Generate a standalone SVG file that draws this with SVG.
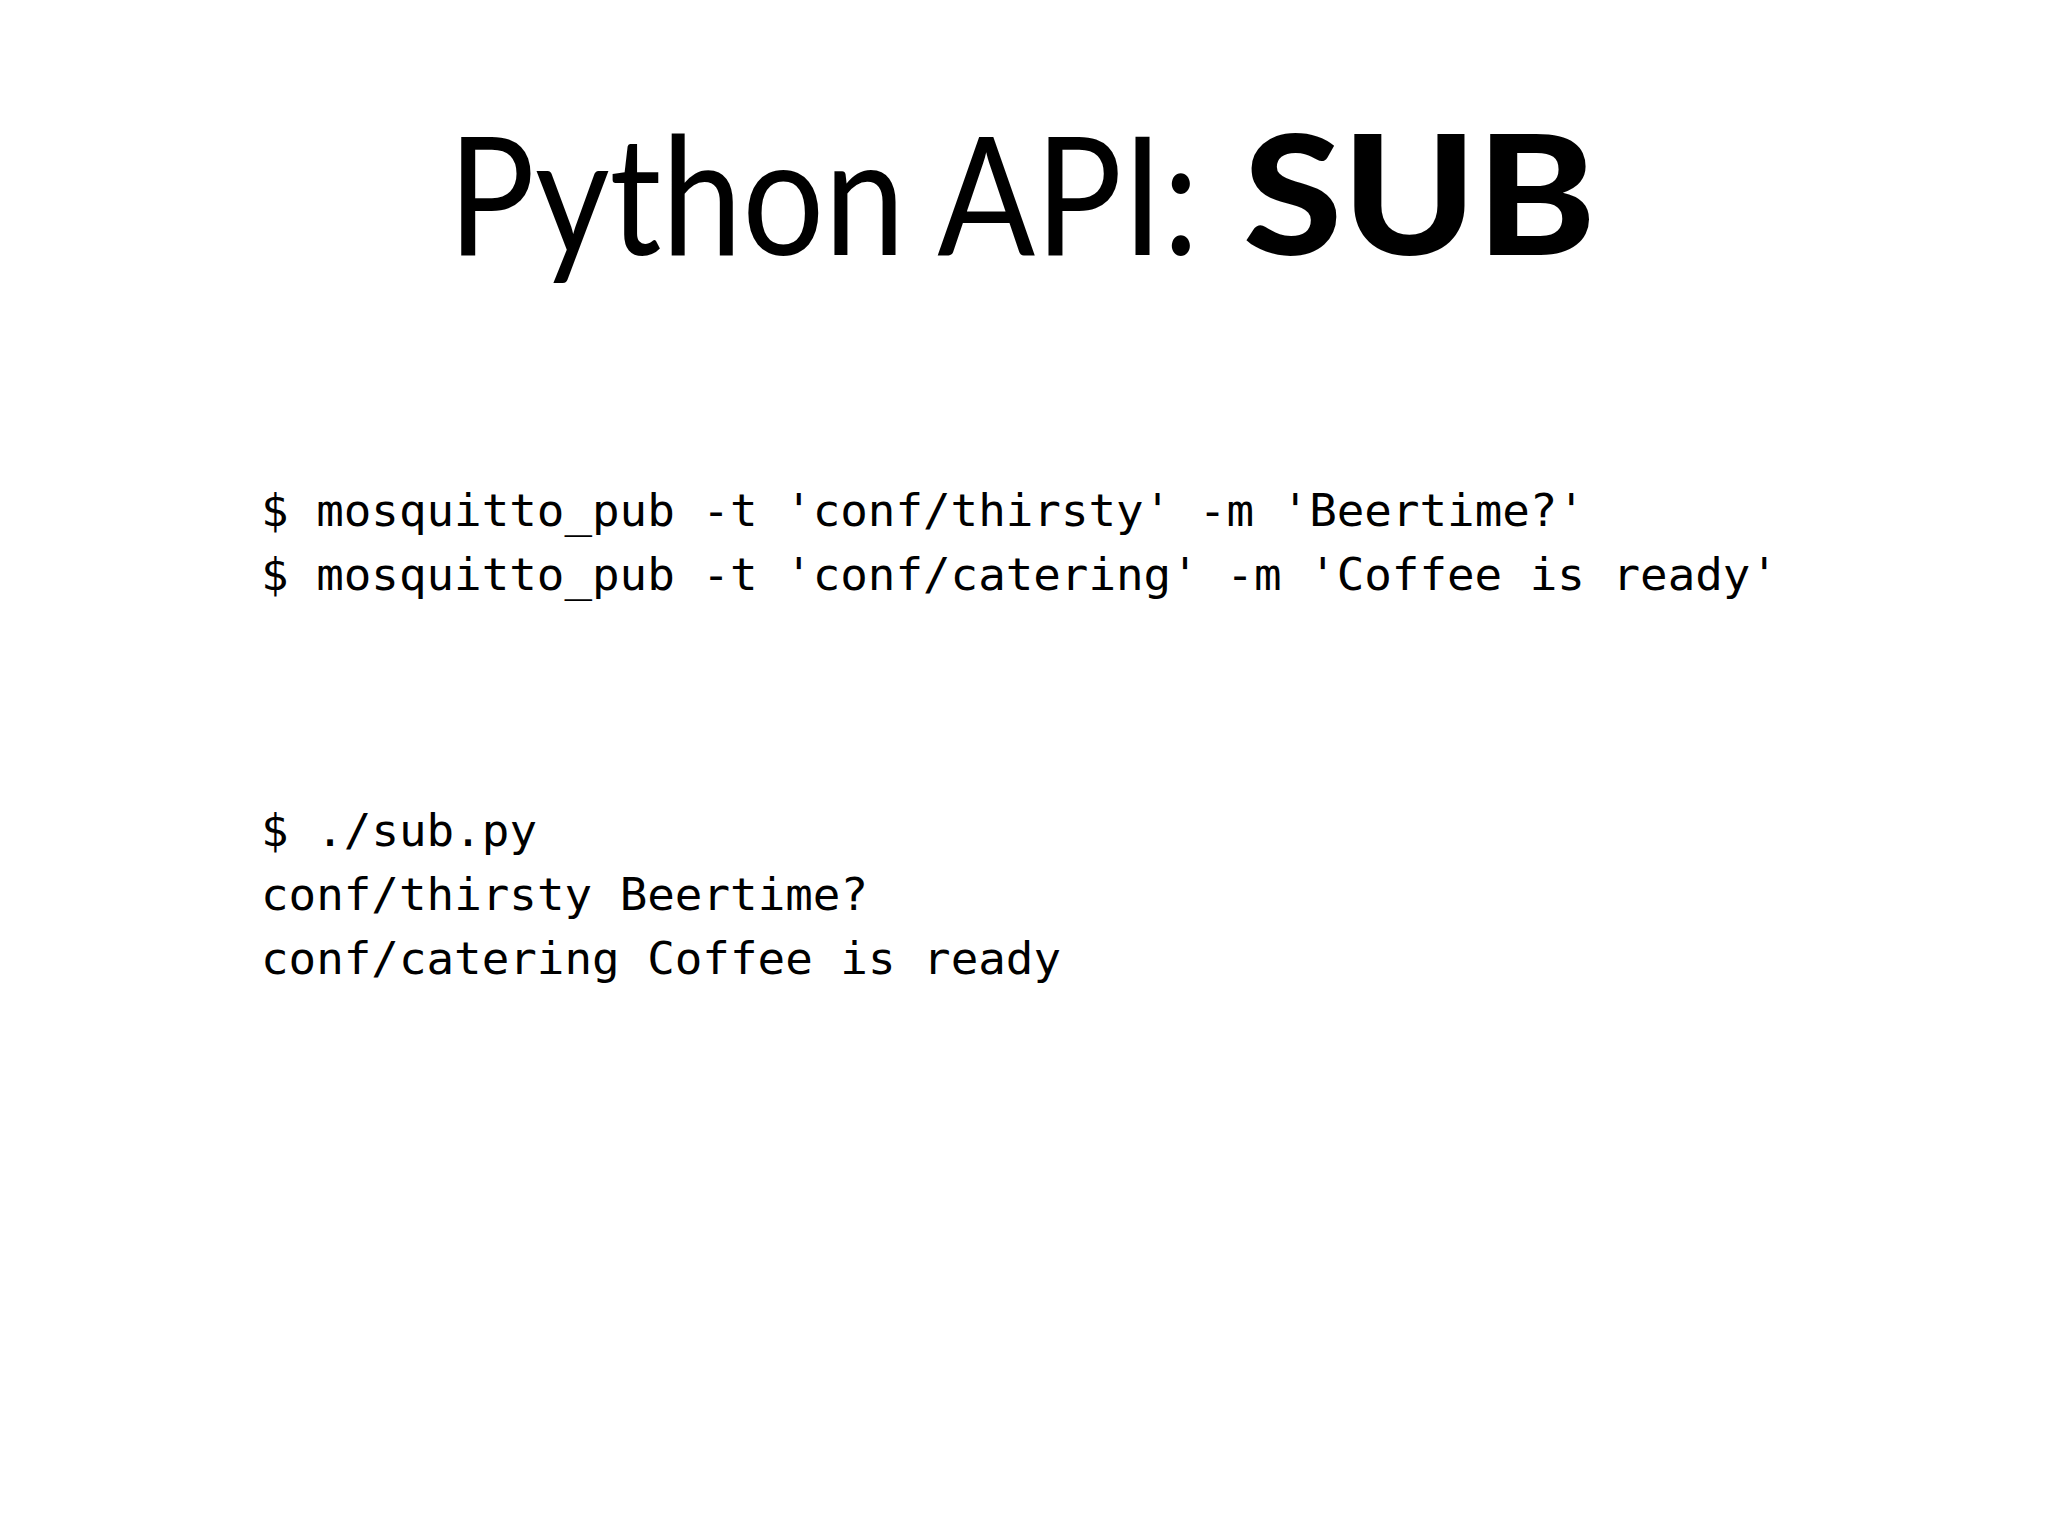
<svg xmlns="http://www.w3.org/2000/svg" width="2048" height="1536" viewBox="0 0 2048 1536">
<style>
.t{font-family:"Gill Sans","Lato","Liberation Sans",sans-serif;font-size:165px;fill:#000}
.c{font-family:"DejaVu Sans Mono","Liberation Mono",monospace;font-size:45px;fill:#000}
</style>
<rect width="2048" height="1536" fill="#fff"/>
<g id="title">
<text class="t" x="448" y="255" textLength="751" lengthAdjust="spacingAndGlyphs">Python API:</text>
<text class="t" x="1243" y="255" font-weight="900" textLength="353" lengthAdjust="spacingAndGlyphs">SUB</text>
</g>
<g id="code">
<text class="c" x="261" y="526" textLength="1324" lengthAdjust="spacingAndGlyphs">$ mosquitto_pub -t 'conf/thirsty' -m 'Beertime?'</text>
<text class="c" x="261" y="590" textLength="1517" lengthAdjust="spacingAndGlyphs">$ mosquitto_pub -t 'conf/catering' -m 'Coffee is ready'</text>
<text class="c" x="261" y="846" textLength="276" lengthAdjust="spacingAndGlyphs">$ ./sub.py</text>
<text class="c" x="261" y="910" textLength="607" lengthAdjust="spacingAndGlyphs">conf/thirsty Beertime?</text>
<text class="c" x="261" y="974" textLength="800" lengthAdjust="spacingAndGlyphs">conf/catering Coffee is ready</text>
</g>
</svg>
